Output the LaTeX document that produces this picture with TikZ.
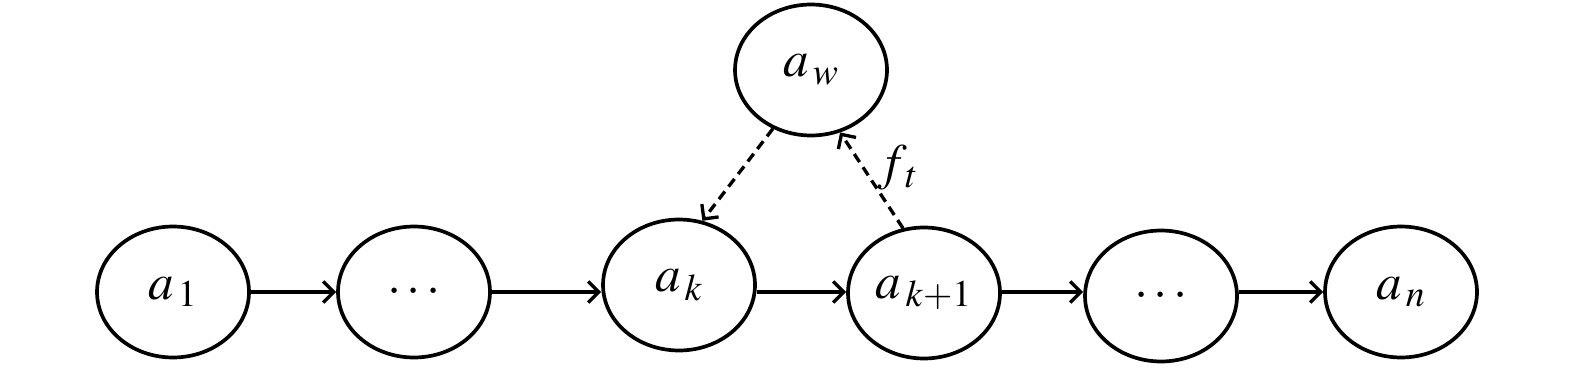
\documentclass[tikz,border=0pt]{standalone}
\usepackage{mathptmx}
\usepackage{tikz}
\usetikzlibrary{shapes.geometric, arrows.meta}

\begin{document}
\begin{tikzpicture}[x=0.02cm, y=-0.02cm,
    state/.style={ellipse, draw, line width=2.1pt, inner sep=0pt,
      minimum width=3.04cm, minimum height=2.62cm,
      font=\fontsize{29}{33}\selectfont},
    flow/.style={-{Straight Barb[length=6pt, width=12pt]}, line width=1.9pt},
    back/.style={flow, dash pattern=on 5.5pt off 3.5pt}]
  \useasboundingbox (0,0) rectangle (1575,368);
  % ---------- chain ----------
  \node[state] (a1) at (173,292) {$a_{\,1}$};
  \node[state] (d1) at (414,292) {$\cdots$};
  \node[state] (ak) at (679,285) {$a_{\,k}$};
  \node[state] (ak1) at (924,293) {$a_{\,k+1}$};
  \node[state] (d2) at (1161,296) {$\cdots$};
  \node[state] (an) at (1401,292) {$a_{\,n}$};
  \draw[flow] (a1.east) -- (a1.east -| d1.west);
  \draw[flow] (d1.east) -- (d1.east -| ak.west);
  \draw[flow] (ak.east |- a1.east) -- (a1.east -| ak1.west);
  \draw[flow] (ak1.east |- a1.east) -- (a1.east -| d2.west);
  \draw[flow] (d2.east |- a1.east) -- (a1.east -| an.west);
  % ---------- w ----------
  \node[state] (aw) at (811,70) {$a_{\,w}$};
  \draw[back] (aw.237) -- (ak.70);
  \draw[back] (ak1.108) -- (aw.295)
    node[pos=0.63, right=4pt, font=\fontsize{29}{33}\selectfont] (ft) {$f_{\,t}$};
\end{tikzpicture}
\end{document}
